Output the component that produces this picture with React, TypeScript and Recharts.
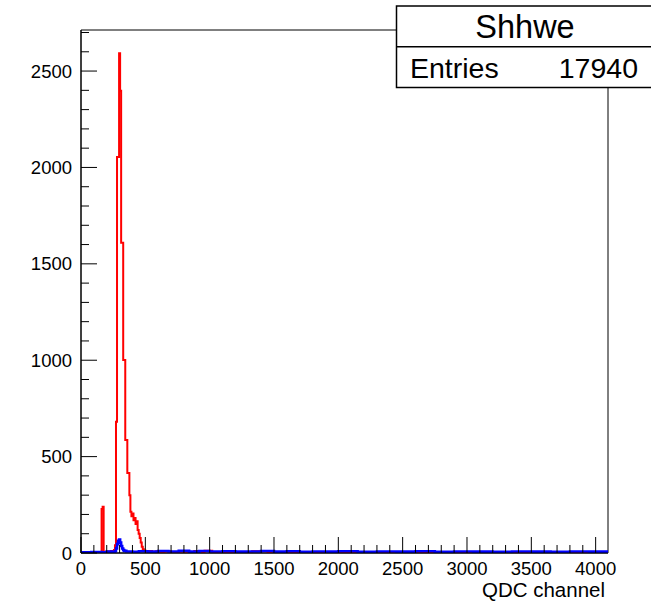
import React from 'react';
import { LineChart, Line, XAxis, YAxis, ReferenceArea } from 'recharts';

// QDC spectrum (histogram, lower bin edge in channels -> entries)
const redEdges = [
  0, 160, 168, 176, 184, 200, 216, 232, 248, 256, 264, 272, 280, 296, 304, 312, 328, 344, 360, 376,
  384, 392, 400, 408, 416, 424, 432, 440, 448, 456, 464, 472, 480, 488, 504, 520, 552, 584, 616, 648,
  700, 760, 850, 880, 940, 960, 1020, 1100, 1200, 1310, 1330, 1450, 1600, 1800, 2000, 2400, 3000, 3500, 4096,
];
const redCounts = [
  0, 228, 240, 6, 3, 8, 4, 10, 6, 15, 40, 681, 2054, 2592, 2398, 1609, 1001, 586, 415, 300,
  214, 190, 205, 170, 182, 150, 165, 119, 100, 78, 55, 33, 20, 12, 8, 10, 6, 9, 5, 8,
  4, 6, 3, 10, 4, 12, 3, 5, 2, 4, 9, 2, 3, 2, 3, 1, 2, 1, 1,
];

const blueEdges = [
  0, 80, 160, 200, 240, 264, 272, 280, 288, 296, 304, 312, 320, 328, 336, 352, 400, 450, 520, 600,
  680, 760, 840, 920, 1000, 1100, 1200, 1300, 1400, 1500, 1600, 1700, 1800, 1900, 2000, 2150, 2300, 2450,
  2600, 2750, 2900, 3050, 3200, 3350, 3500, 3650, 3800, 3950, 4096,
];
const blueCounts = [
  3, 5, 4, 7, 5, 9, 24, 46, 63, 70, 54, 36, 23, 15, 11, 8, 6, 9, 7, 10,
  8, 11, 7, 10, 8, 9, 7, 8, 10, 7, 9, 6, 8, 7, 9, 6, 8, 7,
  9, 6, 8, 7, 6, 8, 7, 6, 8, 7, 7,
];

const xTicks = [
  0, 100, 200, 300, 400, 500, 600, 700, 800, 900, 1000, 1100, 1200, 1300, 1400, 1500, 1600, 1700, 1800,
  1900, 2000, 2100, 2200, 2300, 2400, 2500, 2600, 2700, 2800, 2900, 3000, 3100, 3200, 3300, 3400, 3500,
  3600, 3700, 3800, 3900, 4000,
];
const yTicks = [
  0, 100, 200, 300, 400, 500, 600, 700, 800, 900, 1000, 1100, 1200, 1300, 1400, 1500, 1600, 1700, 1800,
  1900, 2000, 2100, 2200, 2300, 2400, 2500, 2600, 2700,
];

const statsTitle = 'Shhwe';
const statsEntries = 17940;
const xTitle = 'QDC channel';

const FONT = '"Liberation Sans", Arial, Helvetica, sans-serif';

const toSteps = (edges: number[], counts: number[]) => edges.map((ch, i) => ({ ch, v: counts[i] }));
const redData = toSteps(redEdges, redCounts);
const blueData = toSteps(blueEdges, blueCounts);

function XTick(props: any) {
  const { x, y, payload } = props;
  const major = payload.value % 500 === 0;
  return (
    <g>
      <line x1={x} x2={x} y1={y} y2={y - (major ? 16 : 8)} stroke="#000" strokeWidth={1} />
      {major && (
        <text x={x} y={y + 22} textAnchor="middle" fontSize={18.5} fontFamily={FONT} fill="#000">
          {payload.value}
        </text>
      )}
    </g>
  );
}

function YTick(props: any) {
  const { x, y, payload } = props;
  const major = payload.value % 500 === 0;
  return (
    <g>
      <line x1={x} x2={x + (major ? 16 : 8)} y1={y} y2={y} stroke="#000" strokeWidth={1} />
      {major && (
        <text x={x - 9} y={y + 6.6} textAnchor="end" fontSize={18.5} fontFamily={FONT} fill="#000">
          {payload.value}
        </text>
      )}
    </g>
  );
}

export default function App() {
  return (
    <div style={{ position: 'absolute', left: 0, top: 0, width: 651, height: 601, background: '#fff' }}>
      <LineChart width={651} height={601} margin={{ top: 30, right: 43, bottom: 0, left: 0 }}>
        <XAxis
          dataKey="ch"
          type="number"
          domain={[0, 4096]}
          ticks={xTicks}
          interval={0}
          height={48}
          tickSize={0}
          tickMargin={0}
          tickLine={false}
          axisLine={{ stroke: '#000' }}
          tick={XTick}
          allowDataOverflow
        />
        <YAxis
          type="number"
          domain={[0, 2713]}
          ticks={yTicks}
          interval={0}
          width={81}
          tickSize={0}
          tickMargin={0}
          tickLine={false}
          axisLine={{ stroke: '#000' }}
          tick={YTick}
          allowDataOverflow
        />
        <ReferenceArea x1={0} x2={4096} y1={0} y2={2713} fill="none" stroke="#000" strokeWidth={1} ifOverflow="visible" />
        <Line
          data={redData}
          dataKey="v"
          type="stepAfter"
          stroke="#ff0000"
          strokeWidth={2}
          dot={false}
          isAnimationActive={false}
        />
        <Line
          data={blueData}
          dataKey="v"
          type="stepAfter"
          stroke="#0000ff"
          strokeWidth={2.6}
          dot={false}
          isAnimationActive={false}
        />
      </LineChart>
      <svg width={651} height={601} style={{ position: 'absolute', left: 0, top: 0, pointerEvents: 'none' }}>
        <rect x={396.5} y={6} width={260} height={81.5} fill="#fff" stroke="#000" strokeWidth={1.5} />
        <line x1={396.5} x2={656} y1={46.7} y2={46.7} stroke="#000" strokeWidth={1.5} />
        <text x={525} y={38} textAnchor="middle" fontSize={32.5} fontFamily={FONT} fill="#000">
          {statsTitle}
        </text>
        <text x={410} y={78} fontSize={28.5} fontFamily={FONT} fill="#000">
          Entries
        </text>
        <text x={638} y={78} textAnchor="end" fontSize={28.5} fontFamily={FONT} fill="#000">
          {statsEntries}
        </text>
        <text x={605} y={597} textAnchor="end" fontSize={20.5} fontFamily={FONT} fill="#000">
          {xTitle}
        </text>
      </svg>
    </div>
  );
}
